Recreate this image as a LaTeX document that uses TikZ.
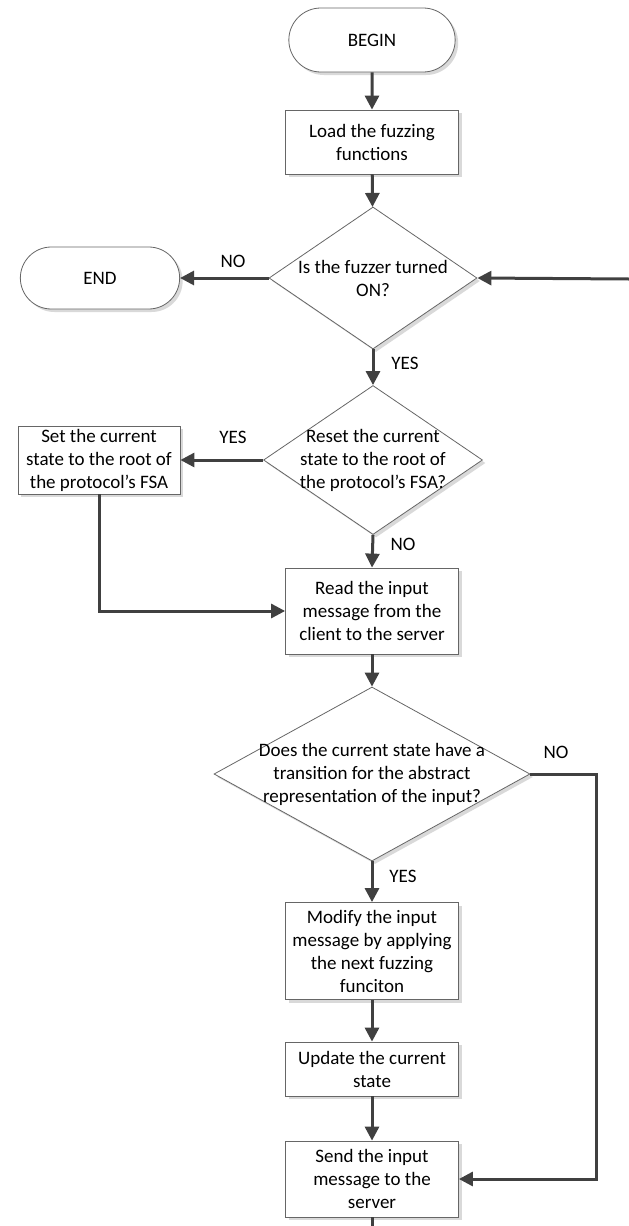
\documentclass[tikz,border=0pt]{standalone}
\usepackage{fontspec}
\setmainfont{Carlito}
\usetikzlibrary{shapes.geometric,shapes.misc,arrows.meta,shadows}

\tikzset{
  base/.style={draw=black!60, line width=0.8pt, fill=white, align=center,
    drop shadow={shadow xshift=3pt, shadow yshift=-3pt, fill=black!15, opacity=1}},
  terminal/.style={base, rounded rectangle, minimum width=173pt, minimum height=64pt},
  process/.style={base, rectangle, minimum width=173pt, inner sep=2pt},
  decision/.style={base, diamond, inner sep=0pt},
  dtext/.style={align=center, inner sep=0pt},
  answer/.style={inner sep=0pt},
  flow/.style={draw=black!75, line width=3pt, -{Triangle[length=14pt,width=14pt]}},
}

\begin{document}
\begin{tikzpicture}[x=1pt,y=-1pt,font=\fontsize{19}{23}\selectfont]
  \useasboundingbox (0,0) rectangle (629,1226);
  % boxes
  \node[terminal] (begin) at (372,40) {BEGIN};
  \node[process, minimum height=64pt] (load) at (372,142) {Load the fuzzing\\functions};
  \node[decision, minimum width=208pt, minimum height=142pt] (on) at (373,278) {};
  \node[dtext] (on-t) at (on) {Is the fuzzer turned\\ON?};
  \node[terminal, minimum width=166pt, minimum height=62pt] (end) at (100,278) {END};
  \node[decision, minimum width=219pt, minimum height=149pt] (reset) at (373,460) {};
  \node[dtext] (reset-t) at (reset) {Reset the current\\state to the root of\\the protocol’s FSA?};
  \node[process, minimum width=162pt, minimum height=68pt] (setroot) at (99,460) {Set the current\\state to the root of\\the protocol’s FSA};
  \node[process, minimum height=86pt] (read) at (372,611) {Read the input\\message from the\\client to the server};
  \node[decision, minimum width=316pt, minimum height=174pt] (trans) at (372,774) {};
  \node[dtext] (trans-t) at (trans) {Does the current state have a\\transition for the abstract\\representation of the input?};
  \node[process, minimum height=97pt] (modify) at (372,951) {Modify the input\\message by applying\\the next fuzzing\\funciton};
  \node[process, minimum height=54pt] (update) at (372,1069) {Update the current\\state};
  \node[process, minimum height=76pt] (send) at (372,1179) {Send the input\\message to the\\server};
  % free ends
  \coordinate (loop) at (629,279);
  \coordinate (skip) at (596,774);
  \coordinate (exit) at (372,1226);
  % connectors
  \draw[flow] (begin) -- (load);
  \draw[flow] (load) -- (on);
  \draw[flow] (on.west) -- (end.east);
  \draw[flow] (loop) -- (on.east);
  \draw[flow] (on.south) -- (reset.north);
  \draw[flow] (reset.west) -- (setroot.east);
  \draw[flow] (reset.south) -- (read.north);
  \draw[flow] (setroot.south) |- (read.west);
  \draw[flow] (read) -- (trans);
  \draw[flow] (trans.south) -- (modify.north);
  \draw[flow] (modify) -- (update);
  \draw[flow] (update) -- (send);
  \draw[flow] (trans.east) -- (skip) |- (send.east);
  \draw[draw=black!75, line width=3pt] (send.south) -- (exit);
  % answers
  \node[answer] (no1) at (233,261) {NO};
  \node[answer] (yes1) at (405,363) {YES};
  \node[answer] (yes2) at (233,437) {YES};
  \node[answer] (no2) at (403,544) {NO};
  \node[answer] (no3) at (556,752) {NO};
  \node[answer] (yes3) at (403,876) {YES};
\end{tikzpicture}
\end{document}
